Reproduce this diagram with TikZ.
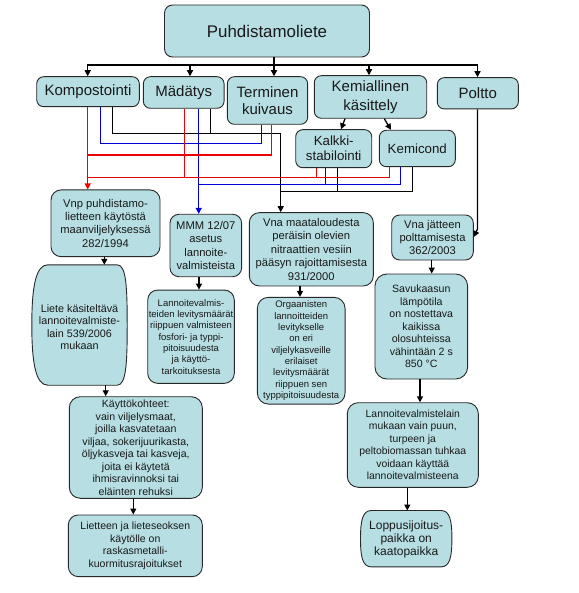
\documentclass[tikz,border=0pt]{standalone}
\usepackage{fontspec}
\setmainfont{Liberation Sans}
\usetikzlibrary{arrows.meta,calc}
\definecolor{boxfill}{RGB}{183,222,226}
\definecolor{boxline}{RGB}{40,40,40}
\definecolor{txt}{RGB}{25,25,25}
\definecolor{lred}{RGB}{235,0,0}
\definecolor{lblue}{RGB}{0,0,215}
\tikzset{
  box/.style={draw=boxline, fill=boxfill, line width=0.9pt, rounded corners=8pt, inner sep=0pt, align=center, text=txt},
  plain/.style={inner sep=0pt, align=center, text=txt},
  fA/.style={font=\fontsize{16.9}{19}\selectfont},
  fB/.style={font=\fontsize{15}{17.6}\selectfont},
  fC/.style={font=\fontsize{13.3}{15}\selectfont},
  fD/.style={font=\fontsize{11.2}{13.35}\selectfont},
  fE/.style={font=\fontsize{9.5}{11.35}\selectfont},
  fF/.style={font=\fontsize{10.6}{12.5}\selectfont},
  fG/.style={font=\fontsize{12}{13}\selectfont},
  conn/.style={line width=1.3pt},
  arr/.style={conn, -{Triangle[length=6pt,width=6pt]}},
}
\begin{document}
\begin{tikzpicture}[x=1pt,y=-1pt]
\useasboundingbox (0,0) rectangle (578,593);
% ---- nodes ----
\node[box,fA,minimum width=205,minimum height=52] (puh) at (267,31) {Puhdistamoliete};
\node[box,fB,minimum width=102.6,minimum height=30,rounded corners=7pt] (komp) at (88,91.7) {Kompostointi};
\node[box,fB,minimum width=80.7,minimum height=31.6,rounded corners=7pt] (mad) at (183.7,92.5) {Mädätys};
\node[box,fB,minimum width=80.3,minimum height=47.6,rounded corners=7pt] (term) at (267.5,100.5) {Terminen\\kuivaus};
\node[box,fB,minimum width=112.4,minimum height=42.6,rounded corners=7pt,font=\fontsize{15}{18.3}\selectfont] (kem) at (370.5,97) {Kemiallinen\\käsittely};
\node[box,fB,minimum width=81,minimum height=31.3,rounded corners=7pt] (pol) at (477.8,93.3) {Poltto};
\node[box,fC,minimum width=76,minimum height=38,rounded corners=7pt] (kal) at (333.7,148.7) {Kalkki-\\stabilointi};
\node[box,fC,minimum width=76,minimum height=36.4,rounded corners=7pt] (kmc) at (417.3,148.5) {Kemicond};
\node[box,fD,minimum width=109,minimum height=66.7,rounded corners=10pt] (vnp) at (105.5,223.3) {Vnp puhdistamo-\\lietteen käytöstä\\maanviljelyksessä\\282/1994};
\node[plain,minimum width=95,minimum height=120] (liete) at (79.5,325) {};
\node[box,fD,minimum width=71.7,minimum height=62.4,rounded corners=9pt] (mmm) at (205.8,245.5) {MMM 12/07\\asetus\\lannoite-\\valmisteista};
\node[box,fE,minimum width=86.6,minimum height=93.3,rounded corners=10pt] (lan1) at (191,336.7) {Lannoitevalmis-\\teiden levitysmäärät\\riippuen valmisteen\\fosfori- ja typpi-\\pitoisuudesta\\ja käyttö-\\tarkoituksesta};
\node[box,fD,minimum width=124,minimum height=73.3,rounded corners=10pt] (vnam) at (311.3,249.3) {Vna maataloudesta\\peräisin olevien\\nitraattien vesiin\\pääsyn rajoittamisesta\\931/2000};
\node[box,fE,minimum width=87.7,minimum height=106.7,rounded corners=11pt] (org) at (301.2,350.7) {Orgaanisten\\lannoitteiden\\levitykselle\\on eri\\viljelykasveille\\erilaiset\\levitysmäärät\\riippuen sen\\typpipitoisuudesta};
\node[box,fD,minimum width=81.6,minimum height=45,rounded corners=8pt] (vnaj) at (432.5,237.5) {Vna jätteen\\polttamisesta\\362/2003};
\node[box,fF,minimum width=92.7,minimum height=105,rounded corners=12pt] (sav) at (421.3,326.5) {Savukaasun\\lämpötila\\on nostettava\\kaikissa\\olosuhteissa\\vähintään 2 s\\850 °C};
\node[box,fF,minimum width=133,minimum height=101.6,rounded corners=11pt] (kay) at (135.8,447.5) {Käyttökohteet:\\vain viljelysmaat,\\joilla kasvatetaan\\viljaa, sokerijuurikasta,\\öljykasveja tai kasveja,\\joita ei käytetä\\ihmisravinnoksi tai\\eläinten rehuksi};
\node[box,fF,minimum width=134,minimum height=61.7,rounded corners=10pt,font=\fontsize{10.5}{12.8}\selectfont] (liet) at (135.3,545.8) {Lietteen ja lieteseoksen\\käytölle on\\raskasmetalli-\\kuormitusrajoitukset};
\node[box,fF,minimum width=131,minimum height=84.6,rounded corners=11pt,font=\fontsize{10.4}{12.5}\selectfont] (lanl) at (412.8,445) {Lannoitevalmistelain\\mukaan vain puun,\\turpeen ja\\peltobiomassan tuhkaa\\voidaan käyttää\\lannoitevalmisteena};
\node[plain,minimum width=91,minimum height=56] (lop) at (406.2,538.7) {};
% ---- barrel shapes ----
\draw[draw=boxline,fill=boxfill,line width=0.9pt]
  ($(liete.north west)+(16,0)$) -- ($(liete.north east)+(-10,0)$)
  .. controls ($(liete.north east)+(-1,0)$) and ($(liete.north east)+(0,22)$) .. (liete.east)
  .. controls ($(liete.south east)+(0,-22)$) and ($(liete.south east)+(-1,0)$) .. ($(liete.south east)+(-10,0)$)
  -- ($(liete.south west)+(16,0)$)
  .. controls ($(liete.south west)+(4,0)$) and ($(liete.south west)+(0,-22)$) .. (liete.west)
  .. controls ($(liete.north west)+(0,22)$) and ($(liete.north west)+(4,0)$) .. ($(liete.north west)+(16,0)$) -- cycle;
\node[plain,font=\fontsize{10.8}{12.4}\selectfont] at ($(liete.center)+(0,2)$) {Liete käsiteltävä\\lannoitevalmiste-\\lain 539/2006\\mukaan};
\draw[draw=boxline,fill=boxfill,line width=0.9pt]
  ($(lop.north west)+(11,0)$) -- ($(lop.north east)+(-11,0)$)
  .. controls ($(lop.north east)+(-2,0)$) and ($(lop.north east)+(0,10)$) .. (lop.east)
  .. controls ($(lop.south east)+(0,-10)$) and ($(lop.south east)+(-2,0)$) .. ($(lop.south east)+(-11,0)$)
  -- ($(lop.south west)+(11,0)$)
  .. controls ($(lop.south west)+(2,0)$) and ($(lop.south west)+(0,-10)$) .. (lop.west)
  .. controls ($(lop.north west)+(0,10)$) and ($(lop.north west)+(2,0)$) .. ($(lop.north west)+(11,0)$) -- cycle;
\node[plain,fG] at ($(lop.center)+(0,1)$) {Loppusijoitus-\\paikka on\\kaatopaikka};
% ---- coordinates ----
\coordinate (t) at (274,0);
\coordinate (bus) at (274,65);
\coordinate (kR) at (87.7,0);  \coordinate (kB) at (100.7,0); \coordinate (kK) at (112.3,0);
\coordinate (mA) at (190,0);   \coordinate (mR) at (184.3,0); \coordinate (mB) at (198.7,0); \coordinate (mK) at (210.7,0);
\coordinate (tB) at (261.7,0); \coordinate (tR) at (271.3,0);
\coordinate (kA) at (369,0);   \coordinate (pA) at (477.5,0);
\coordinate (kaR) at (316.7,0);\coordinate (kaB) at (325.3,0);\coordinate (kaK) at (337.3,0);
\coordinate (kmR) at (389.3,0);\coordinate (kmB) at (400.7,0);\coordinate (kmK) at (412.7,0);
\coordinate (vK) at (280.7,0);
\coordinate (k1) at (0,133.7); \coordinate (b1) at (0,143.3); \coordinate (r1) at (0,155);
\coordinate (r2) at (0,177.3); \coordinate (b2) at (0,184.3); \coordinate (k2) at (0,191.7);
\coordinate (pbend) at (477.5,229); \coordinate (pe) at (0,237);
\coordinate (a1) at (104.3,0); \coordinate (a2) at (105.7,0); \coordinate (a3) at (133.3,0);
\coordinate (a4) at (199,0);   \coordinate (a5) at (300,0);   \coordinate (a6) at (431.7,0);
\coordinate (a7) at (420,0);   \coordinate (a8) at (407.3,0);
% ---- top connectors ----
\draw[conn] (puh.south -| t) -- (bus);
\draw[arr] (bus) -| (komp.north -| kR);
\draw[arr] (bus) -| (mad.north -| mA);
\draw[arr] (bus) -- (term.north -| t);
\draw[arr] (bus) -| (kem.north -| kA);
\draw[arr] (bus) -| (pol.north -| pA);
\draw[arr] ([xshift=-25.5pt]kem.south) -- ([xshift=7.3pt]kal.north);
\draw[arr] ([xshift=13.8pt]kem.south) -- ([xshift=-26.3pt]kmc.north);
% ---- black ----
\draw[arr] (komp.south -| kK) |- (k1 -| vK) -- (vnam.north -| vK);
\draw[conn] (mad.south -| mK) -- (k1 -| mK);
\draw[conn] (kmc.south -| kmK) |- (k2 -| vK);
\draw[conn] (kal.south -| kaK) -- (k2 -| kaK);
\draw[arr] (pol.south -| pA) -- (pbend) -- (vnaj.east |- pe);
% ---- blue ----
\draw[conn,lblue] (komp.south -| kB) |- (b1 -| tB) -- (term.south -| tB);
\draw[conn,lblue] (kmc.south -| kmB) |- (b2 -| mB);
\draw[conn,lblue] (kal.south -| kaB) -- (b2 -| kaB);
\draw[arr,lblue] (mad.south -| mB) -- (mmm.north -| mB);
% ---- red ----
\draw[conn,lred] (term.south -| tR) |- (r1 -| kR);
\draw[conn,lred] (mad.south -| mR) -- (r2 -| mR);
\draw[conn,lred] (kal.south -| kaR) -- (r2 -| kaR);
\draw[conn,lred] (kmc.south -| kmR) |- (r2 -| kR);
\draw[arr,lred] (komp.south -| kR) -- (vnp.north -| kR);
% ---- lower connectors ----
\draw[arr] (vnp.south -| a1) -- (liete.north -| a1);
\draw[arr] (liete.south -| a2) -- (kay.north -| a2);
\draw[arr] (kay.south -| a3) -- (liet.north -| a3);
\draw[arr] (mmm.south -| a4) -- (lan1.north -| a4);
\draw[arr] (vnam.south -| a5) -- (org.north -| a5);
\draw[arr] (vnaj.south -| a6) -- (sav.north -| a6);
\draw[arr] (sav.south -| a7) -- (lanl.north -| a7);
\draw[arr] (lanl.south -| a8) -- (lop.north -| a8);
\end{tikzpicture}
\end{document}
